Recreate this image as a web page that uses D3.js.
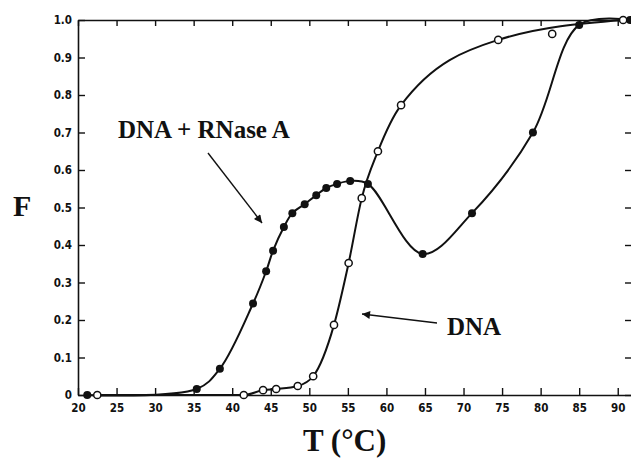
<!DOCTYPE html>
<html>
<head>
<meta charset="utf-8">
<script src="https://cdn.jsdelivr.net/npm/d3@7"></script>
<style>
  body { margin: 0; background: #fff; }
  .tick text { font-family: "Liberation Sans Narrow", "DejaVu Sans Condensed", sans-serif; font-weight: bold; font-size: 11.5px; fill: #111; }
  .label { font-family: "Liberation Serif", "DejaVu Serif", serif; font-weight: bold; fill: #111; }
</style>
</head>
<body>
<div id="plot"></div>
<script>
// Melting data: temperature (°C) and fraction F
var rnaseT = [21.2, 35.4, 38.4, 42.7, 44.4, 45.3, 46.7, 47.8, 49.4, 50.9, 52.2, 53.6, 55.3, 57.6, 64.7, 71.1, 79.0, 85.0, 91.6];
var rnaseF = [0, 0.016, 0.07, 0.244, 0.33, 0.385, 0.448, 0.485, 0.509, 0.533, 0.552, 0.563, 0.571, 0.563, 0.376, 0.485, 0.70, 0.987, 1.0];

var dnaT = [22.5, 41.5, 44.0, 45.7, 48.5, 50.5, 53.2, 55.1, 56.8, 58.9, 61.9, 74.5, 81.5, 90.7];
var dnaF = [0, 0, 0.013, 0.016, 0.024, 0.05, 0.187, 0.352, 0.525, 0.65, 0.773, 0.947, 0.963, 1.0];
// the fitted DNA curve passes above the 81.5 °C point
var dnaOnCurve = [1, 1, 1, 1, 1, 1, 1, 1, 1, 1, 1, 1, 0, 1];

var xTicks = [20, 25, 30, 35, 40, 45, 50, 55, 60, 65, 70, 75, 80, 85, 90];
var yTicks = [0, 0.1, 0.2, 0.3, 0.4, 0.5, 0.6, 0.7, 0.8, 0.9, 1.0];

var svgWidth = 631;
var svgHeight = 466;

var svg = d3.select("#plot")
  .append("svg")
  .attr("width", svgWidth)
  .attr("height", svgHeight);

// plot box edges
var boxLeft = 78, boxRight = 632, boxTop = 20, boxBottom = 395;

var xScale = d3.scaleLinear().domain([20, 91.85]).range([boxLeft, boxRight]);
var yScale = d3.scaleLinear().domain([0, 1]).range([boxBottom, boxTop]);

// axes, ticks pointing inwards
var bottomAxis = d3.axisBottom(xScale).tickValues(xTicks)
  .tickSizeInner(-7).tickSizeOuter(0).tickPadding(9);
var leftAxis = d3.axisLeft(yScale).tickValues(yTicks)
  .tickSizeInner(-7).tickSizeOuter(0).tickPadding(6)
  .tickFormat(d => d === 0 ? "0" : d3.format(".1f")(d));
var topAxis = d3.axisTop(xScale).tickValues(xTicks)
  .tickSizeInner(-6).tickSizeOuter(0).tickFormat("");
var rightAxis = d3.axisRight(yScale).tickValues(yTicks)
  .tickSizeInner(-7).tickSizeOuter(0).tickFormat("");

svg.append("g").attr("transform", `translate(0, ${boxBottom})`).call(bottomAxis);
svg.append("g").attr("transform", `translate(${boxLeft}, 0)`).call(leftAxis);
svg.append("g").attr("transform", `translate(0, ${boxTop})`).call(topAxis);
svg.append("g").attr("transform", `translate(${boxRight}, 0)`).call(rightAxis);

svg.selectAll(".domain").attr("stroke", "#111").attr("stroke-width", 1.6);
svg.selectAll(".tick line").attr("stroke", "#111").attr("stroke-width", 1.4);
svg.selectAll(".tick text").attr("fill", "#111");

// curves
var rnaseData = rnaseT.map((t, i) => ({ t: t, f: rnaseF[i] }));
var dnaData = dnaT.map((t, i) => ({ t: t, f: dnaF[i], on: dnaOnCurve[i] }));

var rnaseLine = d3.line()
  .x(d => xScale(d.t))
  .y(d => yScale(d.f))
  .curve(d3.curveCatmullRom.alpha(0.5));
var dnaLine = d3.line()
  .x(d => xScale(d.t))
  .y(d => yScale(d.f))
  .curve(d3.curveMonotoneX);

svg.append("path").datum(rnaseData)
  .attr("d", rnaseLine).attr("fill", "none")
  .attr("stroke", "#111").attr("stroke-width", 2);
svg.append("path").datum(dnaData.filter(d => d.on))
  .attr("d", dnaLine).attr("fill", "none")
  .attr("stroke", "#111").attr("stroke-width", 2);

// points
svg.selectAll(".dna").data(dnaData).enter()
  .append("circle").attr("class", "dna")
  .attr("cx", d => xScale(d.t)).attr("cy", d => yScale(d.f))
  .attr("r", 3.6).attr("fill", "#fff")
  .attr("stroke", "#111").attr("stroke-width", 1.5);
svg.selectAll(".rnase").data(rnaseData).enter()
  .append("circle").attr("class", "rnase")
  .attr("cx", d => xScale(d.t)).attr("cy", d => yScale(d.f))
  .attr("r", 4).attr("fill", "#111");

// arrows
var defs = svg.append("defs");
defs.append("marker")
  .attr("id", "head")
  .attr("viewBox", "0 0 10 10")
  .attr("refX", 10).attr("refY", 5)
  .attr("markerWidth", 10).attr("markerHeight", 8)
  .attr("markerUnits", "userSpaceOnUse")
  .attr("orient", "auto")
  .append("path").attr("d", "M0,0 L10,5 L0,10 Z").attr("fill", "#111");

svg.append("line")
  .attr("x1", 208).attr("y1", 153).attr("x2", 262).attr("y2", 223)
  .attr("stroke", "#111").attr("stroke-width", 1.4)
  .attr("marker-end", "url(#head)");
svg.append("line")
  .attr("x1", 437).attr("y1", 323).attr("x2", 362).attr("y2", 314)
  .attr("stroke", "#111").attr("stroke-width", 1.4)
  .attr("marker-end", "url(#head)");

// labels
svg.append("text").attr("class", "label")
  .attr("x", 118).attr("y", 138).style("font-size", "25px")
  .text("DNA + RNase A");
svg.append("text").attr("class", "label")
  .attr("x", 447).attr("y", 335).style("font-size", "25px")
  .text("DNA");
svg.append("text").attr("class", "label")
  .attr("x", 13).attr("y", 216).style("font-size", "30px")
  .text("F");
svg.append("text").attr("class", "label")
  .attr("x", 303).attr("y", 451).style("font-size", "31px")
  .text("T (°C)");
</script>
</body>
</html>
